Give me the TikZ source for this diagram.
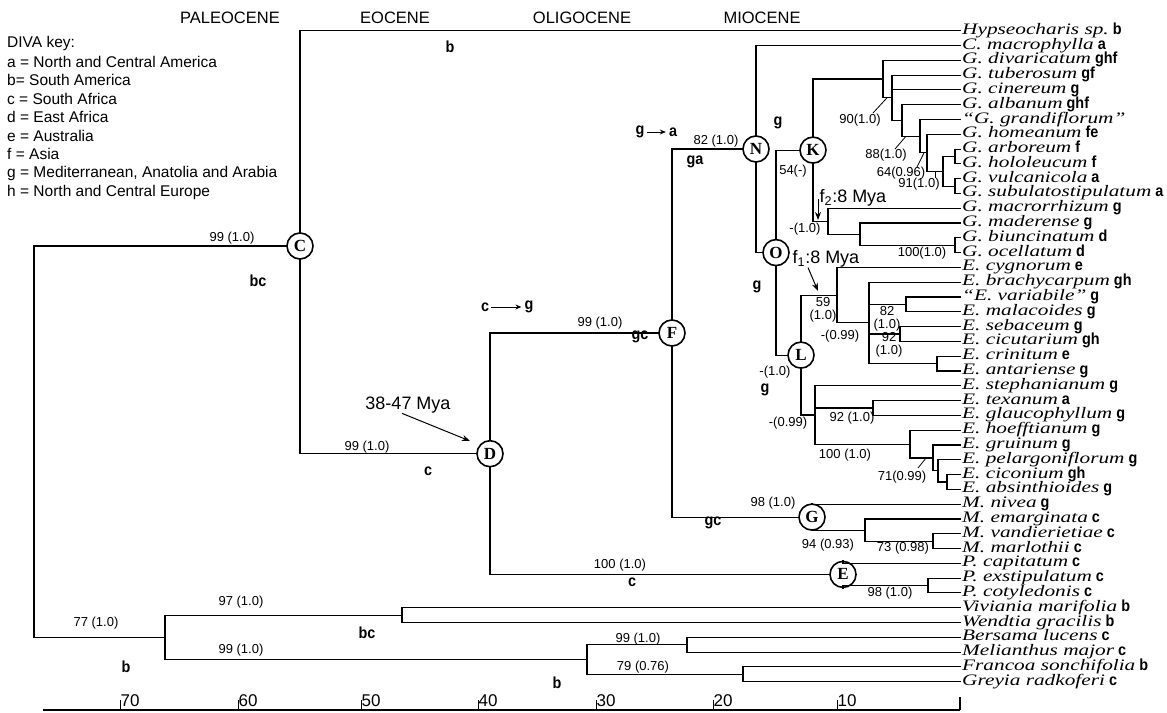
\documentclass[tikz,border=0pt]{standalone}
\usepackage{fontspec}
\setmainfont{Liberation Serif}
\setsansfont{Liberation Sans}
\newfontfamily\taxfont[FakeStretch=1.33]{Liberation Serif}
\newfontfamily\regfont[FakeStretch=0.9]{Liberation Sans}
\newfontfamily\lblfont{Liberation Sans}
\usetikzlibrary{arrows.meta}
\newcommand\tx[4]{\node[taxn] (#1) at (960,#2) {{\taxfont\itshape #3}\ {\regfont\bfseries #4}};}
\begin{document}
\begin{tikzpicture}[x=1pt,y=-1pt,
  branch/.style={line width=1.1pt, line cap=rect},
  nodec/.style={circle, draw, line width=1.6pt, fill=white, minimum size=26pt, inner sep=0pt, font=\rmfamily\bfseries\fontsize{17}{17}\selectfont},
  taxn/.style={anchor=west, inner xsep=2pt, inner ysep=0pt, text height=9pt, text depth=2pt, font=\fontsize{16}{16}\selectfont},
  supl/.style={font=\lblfont\fontsize{13}{13.5}\selectfont, inner sep=0pt, align=center},
  regl/.style={font=\regfont\bfseries\fontsize{16}{16}\selectfont, inner sep=0pt},
  epoch/.style={font=\lblfont\fontsize{16.5}{16.5}\selectfont, inner sep=0pt},
  legl/.style={font=\lblfont\fontsize{15.5}{15.5}\selectfont, inner sep=0pt, anchor=west},
  myal/.style={font=\lblfont\fontsize{18}{18}\selectfont, inner sep=0pt},
  axl/.style={font=\lblfont\fontsize{17}{17}\selectfont, inner sep=0pt, anchor=south west},
  arr/.style={line width=1pt, -{Stealth[length=8pt,width=6pt]}},
  ptr/.style={line width=0.8pt}
]
\fill[white] (0,0) rectangle (1167,712);
\useasboundingbox (0,0) rectangle (1167,712);

% epochs
\node[epoch] (ep1) at (230,18) {PALEOCENE};
\node[epoch] (ep2) at (395,18) {EOCENE};
\node[epoch] (ep3) at (582,18) {OLIGOCENE};
\node[epoch] (ep4) at (762,18) {MIOCENE};

% legend
\node[legl] (k0) at (7,43) {DIVA key:};
\node[legl] (k1) at (7,62) {a = North and Central America};
\node[legl] (k2) at (7,80) {b= South America};
\node[legl] (k3) at (7,99) {c = South Africa};
\node[legl] (k4) at (7,117) {d = East Africa};
\node[legl] (k5) at (7,136) {e = Australia};
\node[legl] (k6) at (7,154) {f = Asia};
\node[legl] (k7) at (7,173) {g = Mediterranean, Anatolia and Arabia};
\node[legl] (k8) at (7,192) {h = North and Central Europe};

% taxa
\tx{t1}{30.7}{Hypseocharis sp.}{b}
\tx{t2}{45.5}{C. macrophylla}{a}
\tx{t3}{60.3}{G. divaricatum}{ghf}
\tx{t4}{75.1}{G. tuberosum}{gf}
\tx{t5}{89.9}{G. cinereum}{g}
\tx{t6}{104.7}{G. albanum}{ghf}
\tx{t7}{119.5}{“G. grandiflorum”}{}
\tx{t8}{134.3}{G. homeanum}{fe}
\tx{t9}{149.1}{G. arboreum}{f}
\tx{t10}{163.9}{G. hololeucum}{f}
\tx{t11}{178.7}{G. vulcanicola}{a}
\tx{t12}{193.4}{G. subulatostipulatum}{a}
\tx{t13}{208.2}{G. macrorrhizum}{g}
\tx{t14}{223.0}{G. maderense}{g}
\tx{t15}{237.8}{G. biuncinatum}{d}
\tx{t16}{252.6}{G. ocellatum}{d}
\tx{t17}{267.4}{E. cygnorum}{e}
\tx{t18}{282.2}{E. brachycarpum}{gh}
\tx{t19}{297.0}{“E. variabile”}{g}
\tx{t20}{311.8}{E. malacoides}{g}
\tx{t21}{326.6}{E. sebaceum}{g}
\tx{t22}{341.4}{E. cicutarium}{gh}
\tx{t23}{356.2}{E. crinitum}{e}
\tx{t24}{371.0}{E. antariense}{g}
\tx{t25}{385.8}{E. stephanianum}{g}
\tx{t26}{400.6}{E. texanum}{a}
\tx{t27}{415.4}{E. glaucophyllum}{g}
\tx{t28}{430.2}{E. hoefftianum}{g}
\tx{t29}{445.0}{E. gruinum}{g}
\tx{t30}{459.8}{E. pelargoniflorum}{g}
\tx{t31}{474.6}{E. ciconium}{gh}
\tx{t32}{489.4}{E. absinthioides}{g}
\tx{t33}{504.2}{M. nivea}{g}
\tx{t34}{519.0}{M. emarginata}{c}
\tx{t35}{533.8}{M. vandierietiae}{c}
\tx{t36}{548.5}{M. marlothii}{c}
\tx{t37}{563.3}{P. capitatum}{c}
\tx{t38}{578.1}{P. exstipulatum}{c}
\tx{t39}{592.9}{P. cotyledonis}{c}
\tx{t40}{607.7}{Viviania marifolia}{b}
\tx{t41}{622.5}{Wendtia gracilis}{b}
\tx{t42}{637.3}{Bersama lucens}{c}
\tx{t43}{652.1}{Melianthus major}{c}
\tx{t44}{666.9}{Francoa sonchifolia}{b}
\tx{t45}{681.7}{Greyia radkoferi}{c}

% internal coordinates
\coordinate (X6) at (955,156.5);
\coordinate (X7) at (955,186.05);
\coordinate (X5) at (943,171.3);
\coordinate (X4) at (927,152.8);
\coordinate (X3) at (920,136.2);
\coordinate (X2) at (902,120.4);
\coordinate (X1) at (892,97.8);
\coordinate (X0) at (883,79);
\coordinate (M3) at (955,245.2);
\coordinate (M2) at (860,234.1);
\coordinate (M1) at (828,221.2);
\coordinate (P5) at (906,304.4);
\coordinate (P6) at (900,334);
\coordinate (P4) at (937,363.6);
\coordinate (P2) at (869,322.9);
\coordinate (P1) at (837,295.2);
\coordinate (Q2) at (873,408);
\coordinate (Q6) at (947,482);
\coordinate (Q5) at (938,470.9);
\coordinate (Q4) at (933,458);
\coordinate (Q3) at (910,444.1);
\coordinate (Q1) at (815,415);
\coordinate (G3) at (933,541.2);
\coordinate (G2) at (865,530.1);
\coordinate (E2) at (928,585.5);
\coordinate (R3) at (402,615.1);
\coordinate (R5) at (687,644.7);
\coordinate (R6) at (743,674.3);
\coordinate (R4) at (587,659.5);
\coordinate (R2) at (165,637.3);
\coordinate (root) at (34,441.6);

% circled nodes
\node[nodec] (C) at (300,246) {C};
\node[nodec] (D) at (490,453.7) {D};
\node[nodec] (F) at (672,333) {F};
\node[nodec] (N) at (756,149) {N};
\node[nodec] (O) at (776,252.6) {O};
\node[nodec] (K) at (813,150.1) {K};
\node[nodec] (L) at (801,355.1) {L};
\node[nodec] (G) at (812,517.1) {G};
\node[nodec] (E) at (843,574.4) {E};

% branches
\begin{scope}[branch]
\draw (root) |- (C); \draw (root) |- (R2);
\draw (C) |- (t1.west); \draw (C) |- (D);
\draw (D) |- (F); \draw (D) |- (E);
\draw (F) |- (N); \draw (F) |- (G);
\draw (N) |- (t2.west); \draw (N) |- (O);
\draw (O) |- (K); \draw (O) |- (L);
\draw (K) |- (X0); \draw (K) |- (M1);
\draw (X0) |- (t3.west); \draw (X0) |- (X1);
\draw (X1) |- (t4.west); \draw (X1) |- (t5.west); \draw (X1) |- (X2);
\draw (X2) |- (t6.west); \draw (X2) |- (X3);
\draw (X3) |- (t7.west); \draw (X3) |- (X4);
\draw (X4) |- (t8.west); \draw (X4) |- (X5);
\draw (X5) |- (X6); \draw (X5) |- (X7);
\draw (X6) |- (t9.west); \draw (X6) |- (t10.west);
\draw (X7) |- (t11.west); \draw (X7) |- (t12.west);
\draw (M1) |- (t13.west); \draw (M1) |- (M2);
\draw (M2) |- (t14.west); \draw (M2) |- (M3);
\draw (M3) |- (t15.west); \draw (M3) |- (t16.west);
\draw (L) |- (P1); \draw (L) |- (Q1);
\draw (P1) |- (t17.west); \draw (P1) |- (P2);
\draw (P2) |- (t18.west); \draw (P2) |- (P5); \draw (P2) |- (P6); \draw (P2) |- (P4);
\draw (P5) |- (t19.west); \draw (P5) |- (t20.west);
\draw (P6) |- (t21.west); \draw (P6) |- (t22.west);
\draw (P4) |- (t23.west); \draw (P4) |- (t24.west);
\draw (Q1) |- (t25.west); \draw (Q1) |- (Q2); \draw (Q1) |- (Q3);
\draw (Q2) |- (t26.west); \draw (Q2) |- (t27.west);
\draw (Q3) |- (t28.west); \draw (Q3) |- (Q4);
\draw (Q4) |- (t29.west); \draw (Q4) |- (Q5);
\draw (Q5) |- (t30.west); \draw (Q5) |- (Q6);
\draw (Q6) |- (t31.west); \draw (Q6) |- (t32.west);
\draw (G) |- (t33.west); \draw (G) |- (G2);
\draw (G2) |- (t34.west); \draw (G2) |- (G3);
\draw (G3) |- (t35.west); \draw (G3) |- (t36.west);
\draw (E) |- (t37.west); \draw (E) |- (E2);
\draw (E2) |- (t38.west); \draw (E2) |- (t39.west);
\draw (R2) |- (R3); \draw (R2) |- (R4);
\draw (R3) |- (t40.west); \draw (R3) |- (t41.west);
\draw (R4) |- (R5); \draw (R4) |- (R6);
\draw (R5) |- (t42.west); \draw (R5) |- (t43.west);
\draw (R6) |- (t44.west); \draw (R6) |- (t45.west);
\end{scope}

% support labels
\node[supl] (s1) at (232,238) {99 (1.0)};
\node[supl] (s2) at (367,447) {99 (1.0)};
\node[supl] (s3) at (600,323) {99 (1.0)};
\node[supl] (s4) at (716,141) {82 (1.0)};
\node[supl] (s5) at (793,171) {54(-)};
\node[supl] (s6) at (805,229) {-(1.0)};
\node[supl] (s7) at (860,120) {90(1.0)};
\node[supl] (s8) at (886,155) {88(1.0)};
\node[supl] (s9) at (901,173) {64(0.96)};
\node[supl] (s10) at (919,184) {91(1.0)};
\node[supl] (s11) at (922,253) {100(1.0)};
\node[supl] (s12) at (823,310) {59\\(1.0)};
\node[supl] (s13) at (775,372) {-(1.0)};
\node[supl] (s14) at (887,319) {82\\(1.0)};
\node[supl] (s15) at (840,336) {-(0.99)};
\node[supl] (s16) at (889,345) {92\\(1.0)};
\node[supl] (s17) at (788,423) {-(0.99)};
\node[supl] (s18) at (852,418) {92 (1.0)};
\node[supl] (s19) at (845,455) {100 (1.0)};
\node[supl] (s20) at (902,477) {71(0.99)};
\node[supl] (s21) at (773,503) {98 (1.0)};
\node[supl] (s22) at (828,545) {94 (0.93)};
\node[supl] (s23) at (903,548) {73 (0.98)};
\node[supl] (s24) at (620,565) {100 (1.0)};
\node[supl] (s25) at (890,593) {98 (1.0)};
\node[supl] (s26) at (96,623) {77 (1.0)};
\node[supl] (s27) at (241,602) {97 (1.0)};
\node[supl] (s28) at (241,650) {99 (1.0)};
\node[supl] (s29) at (638,639) {99 (1.0)};
\node[supl] (s30) at (643,667) {79 (0.76)};

% pointer lines
\coordinate (p7a) at (873,113); \coordinate (p7b) at (887,97.8);
\coordinate (p8a) at (895,149); \coordinate (p8b) at (906,136.2);
\coordinate (p9a) at (917,167); \coordinate (p9b) at (924,152.8);
\coordinate (p10a) at (935,171.3); \coordinate (p10b) at (935,178);
\coordinate (p20a) at (918,468); \coordinate (p20b) at (926,458);
\draw[ptr] (p7a) -- (p7b);
\draw[ptr] (p8a) -- (p8b);
\draw[ptr] (p9a) -- (p9b);
\draw[ptr] (p10a) -- (p10b);
\draw[ptr] (p20a) -- (p20b);

% region labels
\node[regl] (r1) at (450,47) {b};
\node[regl] (r2) at (258,281) {bc};
\node[regl] (r3) at (428,471) {c};
\node[regl] (r4) at (640,337) {gc};
\node[regl] (r5) at (695,162) {ga};
\node[regl] (r6) at (778,123) {g};
\node[regl] (r7) at (757,287) {g};
\node[regl] (r8) at (765,390) {g};
\node[regl] (r9) at (713,523) {gc};
\node[regl] (r10) at (632,582) {c};
\node[regl] (r11) at (367,633) {bc};
\node[regl] (r12) at (126,667) {b};
\node[regl] (r13) at (557,683) {b};

% dispersal arrows
\node[regl] (ga1) at (640,132) {g};
\node[regl] (ga2) at (673,132) {a};
\draw[line width=1pt, -{Stealth[length=6pt,width=5pt]}] ([xshift=2pt]ga1.east) -- ([xshift=-3pt]ga2.west);
\node[regl] (cg1) at (485,307) {c};
\node[regl] (cg2) at (529,307) {g};
\draw[line width=1pt, -{Stealth[length=6pt,width=5pt]}] ([xshift=2pt]cg1.east) -- ([xshift=-3pt]cg2.west);

% dating labels
\node[myal] (mya) at (408,405) {38-47 Mya};
\coordinate (myaT) at (470,441);
\draw[arr] ([xshift=-6pt]mya.south) -- (myaT);
\node[myal] (f1) at (826,259) {f\textsubscript{1}:8 Mya};
\coordinate (f1T) at (818,291);
\draw[arr] ([xshift=-18pt]f1.south) -- (f1T);
\node[myal] (f2) at (853,198) {f\textsubscript{2}:8 Mya};
\coordinate (f2S) at (818,199);
\coordinate (f2T) at (818,220);
\draw[arr] (f2S) -- (f2T);

% axis
\coordinate (axL) at (43,710);
\coordinate (axR) at (960,710);
\coordinate (axRT) at (960,697);
\draw[line width=1.8pt] (axL) -- (axR);
\draw[line width=1.8pt] (axR) -- (axRT);
\foreach \xx/\lab in {120/70, 238/60, 361/50, 478/40, 596/30, 713/20, 837/10} {
  \coordinate (tk\lab) at (\xx,710);
  \coordinate (tt\lab) at (\xx,700);
  \draw[line width=0.9pt] (tk\lab) -- (tt\lab);
  \node[axl] (al\lab) at (\xx+0.5,707) {\lab};
}
\end{tikzpicture}
\end{document}
